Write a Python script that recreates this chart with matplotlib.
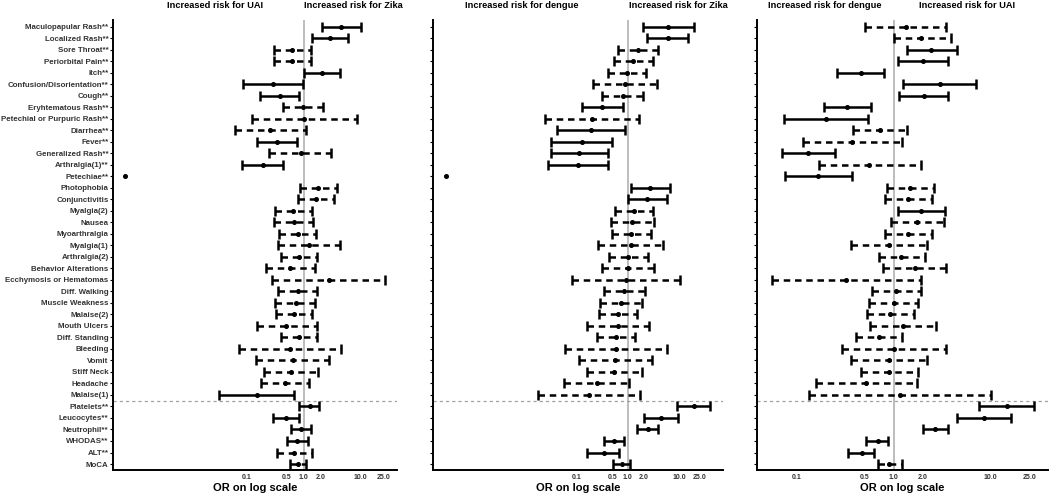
import numpy as np
import matplotlib
matplotlib.use('Agg')
import matplotlib.pyplot as plt
from matplotlib.ticker import FixedLocator, NullLocator

plt.rcParams['font.family'] = ['Liberation Sans', 'DejaVu Sans']

labels = ['Maculopapular Rash**', 'Localized Rash**', 'Sore Throat**', 'Periorbital Pain**',
          'Itch**', 'Confusion/Disorientation**', 'Cough**', 'Eryhtematous Rash**',
          'Petechial or Purpuric Rash**', 'Diarrhea**', 'Fever**', 'Generalized Rash**',
          'Arthralgia(1)**', 'Petechiae**', 'Photophobia', 'Conjunctivitis', 'Myalgia(2)',
          'Nausea', 'Myoarthralgia', 'Myalgia(1)', 'Arthralgia(2)', 'Behavior Alterations',
          'Ecchymosis or Hematomas', 'Diff. Walking', 'Muscle Weakness', 'Malaise(2)',
          'Mouth Ulcers', 'Diff. Standing', 'Bleeding', 'Vomit', 'Stiff Neck', 'Headache',
          'Malaise(1)', 'Platelets**', 'Leucocytes**', 'Neutrophil**', 'WHODAS**', 'ALT**', 'MoCA']

nan = np.nan

# panel 1: UAI vs Zika
p1_or = [4.6, 2.9, 0.63, 0.63, 2.12, 0.29, 0.385, 0.99, 1.03, 0.26, 0.34, 0.88, 0.19, 0.00073,
         1.81, 1.64, 0.65, 0.67, 0.78, 1.25, 0.82, 0.57, 2.78, 0.8, 0.72, 0.68,
         0.49, 0.83, 0.57, 0.64, 0.61, 0.47, 0.15, 1.3, 0.49, 0.89, 0.76, 0.67, 0.8]
p1_lo = [2.07, 1.41, 0.30, 0.30, 1.03, 0.087, 0.17, 0.43, 0.126, 0.062, 0.15, 0.25, 0.084, nan,
         0.86, 0.78, 0.32, 0.30, 0.37, 0.36, 0.40, 0.22, 0.28, 0.36, 0.32, 0.33,
         0.15, 0.40, 0.074, 0.146, 0.20, 0.18, 0.032, 0.83, 0.29, 0.6, 0.5, 0.34, 0.58]
p1_hi = [10.3, 6.0, 1.33, 1.33, 4.33, 0.96, 0.84, 2.15, 8.7, 1.1, 0.75, 3.0, 0.44, nan,
         3.8, 3.45, 1.4, 1.48, 1.62, 4.33, 1.69, 1.58, 26.7, 1.73, 1.58, 1.42,
         1.69, 1.75, 4.47, 2.82, 1.81, 1.25, 0.68, 1.86, 0.82, 1.34, 1.18, 1.41, 1.09]
p1_sig = [1, 1, 0, 0, 1, 1, 1, 0, 0, 0, 1, 0, 1, 1,
          0, 0, 0, 0, 0, 0, 0, 0, 0, 0, 0, 0,
          0, 0, 0, 0, 0, 0, 1, 1, 1, 1, 1, 0, 0]

# panel 2: dengue vs Zika
p2_or = [6.1, 5.9, 1.6, 1.29, 0.96, 0.89, 0.8, 0.32, 0.205, 0.19, 0.128, 0.114, 0.11, 0.0003,
         2.7, 2.4, 1.32, 1.23, 1.16, 1.16, 1.0, 1.0, 0.91, 0.85, 0.73, 0.66,
         0.64, 0.59, 0.58, 0.57, 0.55, 0.25, 0.18, 18.8, 4.37, 2.44, 0.53, 0.34, 0.76]
p2_lo = [1.96, 2.33, 0.66, 0.54, 0.42, 0.215, 0.31, 0.128, 0.025, 0.043, 0.032, 0.032, 0.029, nan,
         1.14, 1.0, 0.57, 0.47, 0.5, 0.27, 0.43, 0.31, 0.082, 0.35, 0.29, 0.28,
         0.16, 0.25, 0.061, 0.112, 0.164, 0.059, 0.018, 9.2, 2.07, 1.53, 0.35, 0.16, 0.51]
p2_hi = [19.4, 15.0, 3.9, 3.1, 2.26, 3.76, 2.0, 0.8, 1.66, 0.9, 0.5, 0.41, 0.42, nan,
         6.6, 5.7, 3.14, 3.2, 2.8, 4.9, 2.44, 3.2, 10.4, 2.17, 1.9, 1.53,
         2.6, 1.39, 5.7, 3.0, 1.87, 1.06, 1.73, 40.0, 9.5, 3.83, 0.85, 0.68, 1.11]
p2_sig = [1, 1, 0, 0, 0, 0, 0, 1, 0, 1, 1, 1, 1, 1,
          1, 1, 0, 0, 0, 0, 0, 0, 0, 0, 0, 0,
          0, 0, 0, 0, 0, 0, 0, 1, 1, 1, 1, 1, 0]

# panel 3: dengue vs UAI
p3_or = [1.33, 1.93, 2.44, 2.0, 0.46, 2.97, 2.04, 0.33, 0.2, 0.72, 0.37, 0.13, 0.56, 0.166,
         1.47, 1.41, 1.9, 1.74, 1.41, 0.9, 1.2, 1.65, 0.32, 1.05, 1.0, 0.92,
         1.25, 0.7, 1.0, 0.9, 0.9, 0.52, 1.16, 14.8, 8.5, 2.68, 0.68, 0.47, 0.9]
p3_lo = [0.5, 1.0, 1.36, 1.11, 0.26, 1.25, 1.14, 0.19, 0.074, 0.38, 0.115, 0.071, 0.17, 0.075,
         0.85, 0.81, 1.1, 0.93, 0.82, 0.36, 0.7, 0.78, 0.056, 0.6, 0.56, 0.53,
         0.57, 0.41, 0.29, 0.36, 0.46, 0.158, 0.134, 7.6, 4.46, 1.98, 0.52, 0.34, 0.68]
p3_hi = [3.47, 3.9, 4.46, 3.6, 0.8, 7.0, 3.6, 0.58, 0.54, 1.38, 1.22, 0.25, 1.89, 0.37,
         2.6, 2.5, 3.34, 3.3, 2.48, 2.2, 2.12, 3.47, 1.9, 1.89, 1.78, 1.61,
         2.75, 1.21, 3.47, 2.22, 1.78, 1.72, 10.1, 27.6, 16.2, 3.6, 0.87, 0.63, 1.22]
p3_sig = [0, 0, 1, 1, 1, 1, 1, 1, 1, 0, 0, 1, 0, 1,
          0, 0, 1, 0, 0, 0, 0, 0, 0, 0, 0, 0,
          0, 0, 0, 0, 0, 0, 0, 1, 1, 1, 1, 1, 0]

panels = [
    (p1_or, p1_lo, p1_hi, p1_sig, (10**-3.35, 10**1.64), 'Increased risk for UAI', 'Increased risk for Zika'),
    (p2_or, p2_lo, p2_hi, p2_sig, (10**-3.78, 10**1.84), 'Increased risk for dengue', 'Increased risk for Zika'),
    (p3_or, p3_lo, p3_hi, p3_sig, (10**-1.41, 10**1.59), 'Increased risk for dengue', 'Increased risk for UAI'),
]
ax_left = [113, 432.7, 757]
ax_w = [284, 290, 291]
title_x = [(215, 353), (522, 678), (825, 967)]

W, H = 1050, 494
fig = plt.figure(figsize=(W / 100, H / 100), dpi=100)

xticks = [0.1, 0.5, 1, 2, 10, 25]
xticklabels = ['0.1', '0.5', '1.0', '2.0', '10.0', '25.0']
ypos = np.arange(len(labels))

for i, (orv, lo, hi, sig, xlim, tl, tr) in enumerate(panels):
    ax = fig.add_axes([ax_left[i] / W, 1 - 470 / H, ax_w[i] / W, 450 / H])
    ax.set_xscale('log')
    ax.axvline(1, color='#b8b8b8', lw=1.3, zorder=1)
    ax.axhline(32.5, color='#a0a0a0', lw=0.9, ls=(0, (2.5, 2.5)), zorder=1)
    for y, m, l, h, s in zip(ypos, orv, lo, hi, sig):
        if not np.isnan(l):
            ls = '-' if s else (0, (2.6, 1.9))
            ax.plot([l, h], [y, y], color='black', lw=1.8, ls=ls, solid_capstyle='butt',
                    dash_capstyle='butt', zorder=2)
            ax.plot([l, h], [y, y], ls='none', marker='|', ms=7.5, mew=1.8, color='black', zorder=3)
        ax.plot(m, y, 'o', color='black', ms=2.6, zorder=4)
    ax.set_xlim(*xlim)
    ax.set_ylim(38.52, -0.58)
    ax.xaxis.set_major_locator(FixedLocator(xticks))
    ax.xaxis.set_minor_locator(NullLocator())
    ax.set_xticklabels(xticklabels, fontsize=5, fontweight='bold', color='#333333')
    ax.set_yticks(ypos)
    if i == 0:
        ax.set_yticklabels(labels, fontsize=5.7, fontweight='bold', color='#333333')
    else:
        ax.set_yticklabels([])
    ax.tick_params(axis='y', length=2, width=0.8, pad=1.2)
    ax.tick_params(axis='x', length=0, pad=3)
    for sp in ['top', 'right']:
        ax.spines[sp].set_visible(False)
    for sp in ['left', 'bottom']:
        ax.spines[sp].set_linewidth(1.4)
    ax.set_xlabel('OR on log scale', fontsize=8, fontweight='bold', labelpad=1)
    fig.text(title_x[i][0] / W, 1 - 6 / H, tl, ha='center', va='center', fontsize=6.7, fontweight='bold')
    fig.text(title_x[i][1] / W, 1 - 6 / H, tr, ha='center', va='center', fontsize=6.7, fontweight='bold')

fig.savefig('out.png', dpi=100)
